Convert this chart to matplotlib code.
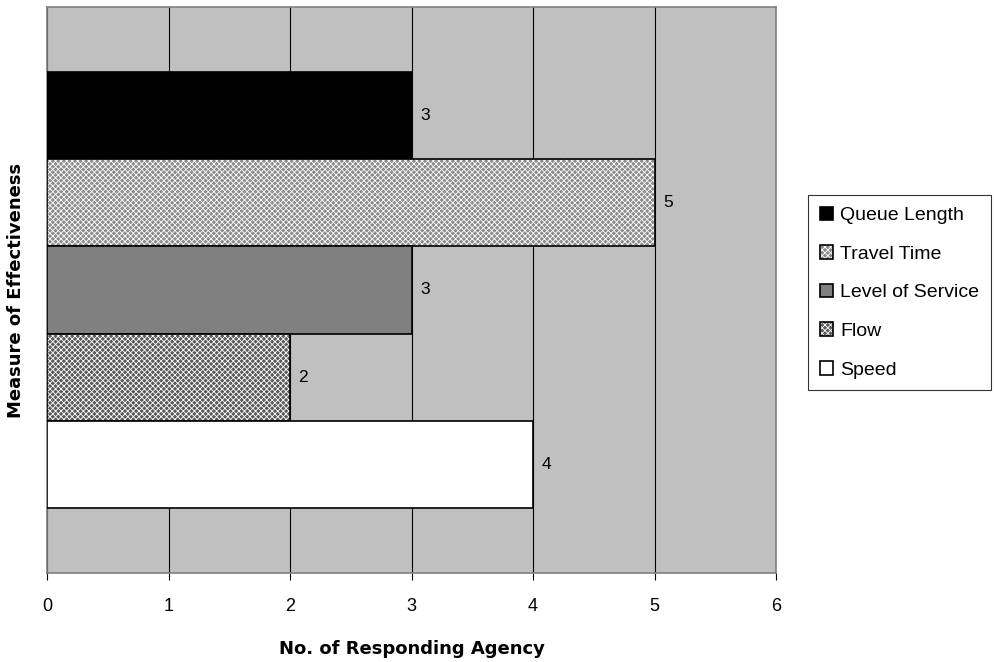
import matplotlib
matplotlib.use("Agg")
import matplotlib.pyplot as plt

plt.rcParams['font.family'] = ['Liberation Sans', 'DejaVu Sans']
plt.rcParams['hatch.linewidth'] = 0.6

series = ["Queue Length", "Travel Time", "Level of Service", "Flow", "Speed"]
values = [3, 5, 3, 2, 4]
xticks = [0, 1, 2, 3, 4, 5, 6]
facecolors = ["#000000", "#8c8c8c", "#808080", "#5a5a5a", "#ffffff"]
hatches = [None, "xxxxxx", None, "xxxxxx", None]
hatchcolors = [None, "#ffffff", None, "#ffffff", None]

fig = plt.figure(figsize=(9.94, 6.62), dpi=100)
ax = fig.add_axes([47/994, 1-573/662, (776-47)/994, (573-7)/662])
ax.set_facecolor("#c0c0c0")

n = len(series)
handles = []
for i, (s, v, fc, h, hc) in enumerate(zip(series, values, facecolors, hatches, hatchcolors)):
    y = n - 1 - i
    b = ax.barh(y, v, height=1.0, color=fc, edgecolor="#000000", linewidth=1.2,
                hatch=h, zorder=3, label=s)
    if h:
        b[0]._hatch_color = matplotlib.colors.to_rgba(hc)
    ax.text(v + 0.07, y, str(v), va="center", ha="left", fontsize=12.5, zorder=4)
    handles.append(b[0])

pad = 0.74
ax.set_ylim(-0.5 - pad, n - 0.5 + pad)
ax.set_xlim(0, 6)
ax.set_xticks(xticks)
ax.set_xticklabels([str(t) for t in xticks], fontsize=13)
ax.set_yticks([])
ax.xaxis.grid(True, color="#000000", linewidth=0.8, zorder=1)
ax.set_axisbelow(True)
ax.tick_params(axis="x", direction="out", length=5, width=0.8, colors="#000000", pad=13)
for sp in ax.spines.values():
    sp.set_color("#808080")
    sp.set_linewidth(1.2)

ax.set_xlabel("No. of Responding Agency", fontsize=13, fontweight="bold",
              family=["DejaVu Sans"], labelpad=18)
ax.set_ylabel("Measure of Effectiveness", fontsize=13, fontweight="bold",
              family=["DejaVu Sans"], labelpad=16)

leg = fig.legend(handles=handles, labels=series,
                 loc="upper left", bbox_to_anchor=(808/994, 1-195/662),
                 fontsize=14, frameon=True, fancybox=False, handlelength=0.7,
                 handleheight=0.7, handletextpad=0.35, labelspacing=1.08,
                 borderpad=0.6, borderaxespad=0)
leg.get_frame().set_edgecolor("#000000")
leg.get_frame().set_linewidth(0.8)

fig.savefig("out.png", dpi=100)
